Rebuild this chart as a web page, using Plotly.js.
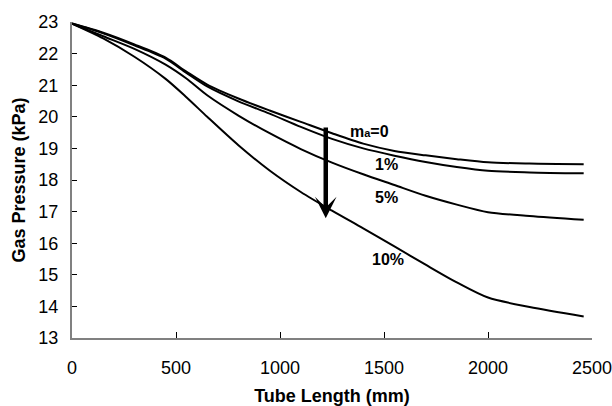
<!DOCTYPE html>
<html>
<head>
<meta charset="utf-8">
<script src="https://cdn.plot.ly/plotly-3.0.1.min.js"></script>
<style>html,body{margin:0;padding:0;background:#fff;}#chart{width:612px;height:406px;}</style>
</head>
<body>
<div id="chart"></div>
<script>
var tubeLength = [0, 150, 300, 450, 550, 650, 800, 950, 1100, 1250, 1400, 1550, 1700, 1850, 2000, 2200, 2460];
var p0  = [22.95, 22.66, 22.29, 21.87, 21.43, 21.02, 20.58, 20.20, 19.84, 19.48, 19.15, 18.92, 18.78, 18.66, 18.56, 18.52, 18.50];
var p1  = [22.95, 22.64, 22.26, 21.84, 21.39, 20.96, 20.49, 20.10, 19.68, 19.30, 19.00, 18.77, 18.57, 18.41, 18.29, 18.24, 18.21];
var p5  = [22.95, 22.55, 22.15, 21.65, 21.21, 20.68, 20.04, 19.48, 18.98, 18.55, 18.18, 17.84, 17.50, 17.22, 16.98, 16.86, 16.74];
var p10 = [22.95, 22.48, 21.90, 21.20, 20.62, 20.00, 19.10, 18.30, 17.62, 17.03, 16.47, 15.90, 15.32, 14.76, 14.28, 13.98, 13.68];
var seriesNames = ['ma=0', '1%', '5%', '10%'];
var seriesLabels = ['m<span style="font-size:11px">a</span>=0', '1%', '5%', '10%'];
var labelX = [1430, 1510, 1510, 1517];
var labelY = [19.52, 18.49, 17.45, 15.5];
var arrowX = 1220, arrowFrom = 19.71, arrowTo = 16.79;

var allY = [p0, p1, p5, p10];
var traces = allY.map(function (ys, i) {
  return {
    x: tubeLength, y: ys, name: seriesNames[i], type: 'scatter', mode: 'lines',
    line: {color: '#000', width: 2, shape: 'spline', smoothing: 0.8},
    hoverinfo: 'x+y'
  };
});

var fam = 'Liberation Sans, Arial, sans-serif';
var annotations = seriesLabels.map(function (t, i) {
  return {x: labelX[i], y: labelY[i], xref: 'x', yref: 'y', text: '<b>' + t + '</b>',
          showarrow: false, font: {family: fam, size: 16, color: '#000'}};
});
annotations.push({
  x: arrowX, y: arrowTo, ax: arrowX, ay: arrowFrom, xref: 'x', yref: 'y', axref: 'x', ayref: 'y',
  text: '', showarrow: true, arrowhead: 3, arrowsize: 0.8, arrowwidth: 4.5, arrowcolor: '#000', standoff: 0
});

var axisFont = {family: fam, size: 18, color: '#000'};
var layout = {
  width: 612, height: 406,
  margin: {l: 72, r: 20, t: 22, b: 68},
  paper_bgcolor: '#fff', plot_bgcolor: '#fff',
  showlegend: false,
  xaxis: {
    range: [0, 2500], tickvals: [0, 500, 1000, 1500, 2000, 2500],
    showgrid: false, zeroline: false, showline: true, linecolor: '#808080', linewidth: 2,
    ticks: 'inside', ticklen: 6, tickwidth: 1, tickcolor: '#000',
    tickfont: axisFont, ticklabelstandoff: 12, ticklabeloverflow: 'allow',
    title: {text: '<b>Tube Length (mm)</b>', font: {family: fam, size: 18, color: '#000'}, standoff: 14}
  },
  yaxis: {
    range: [13, 23], tickvals: [13, 14, 15, 16, 17, 18, 19, 20, 21, 22, 23],
    showgrid: false, zeroline: false, showline: true, linecolor: '#808080', linewidth: 2,
    ticks: 'inside', ticklen: 5, tickwidth: 1, tickcolor: '#000',
    tickfont: axisFont, ticklabelstandoff: 8, ticklabeloverflow: 'allow',
    title: {text: '<b>Gas Pressure (kPa)</b>', font: {family: fam, size: 18, color: '#000'}, standoff: 8}
  },
  annotations: annotations
};
Plotly.newPlot('chart', traces, layout, {displayModeBar: false, staticPlot: true});
</script>
</body>
</html>
